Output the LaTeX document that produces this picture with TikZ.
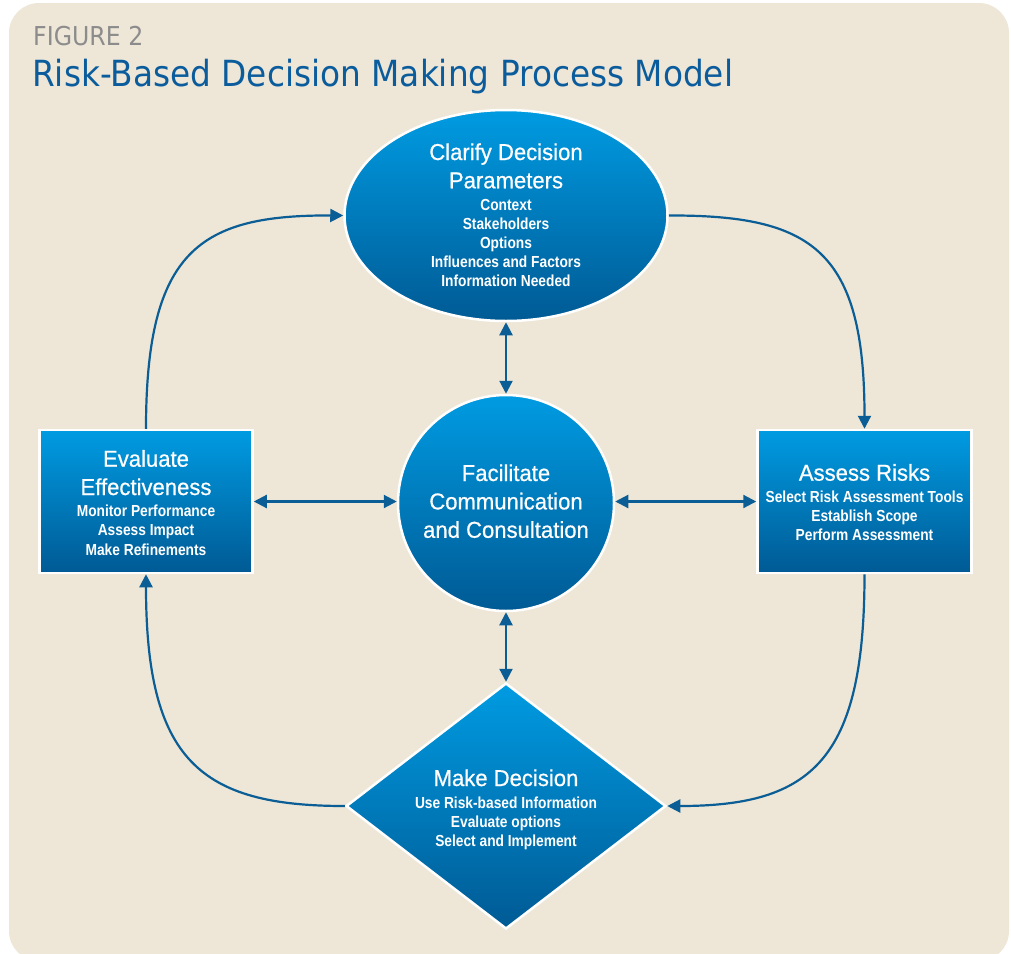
\documentclass[tikz,border=0pt]{standalone}
\usepackage{fontspec}
\usetikzlibrary{shapes.geometric,arrows.meta}
\newfontfamily\ttlfont{DejaVu Sans}[FakeStretch=0.91]
\newfontfamily\hdfont{Liberation Sans}[FakeStretch=0.96,FakeBold=0.6]
\newfontfamily\sbfont{Liberation Sans Bold}[FakeStretch=0.86]
\definecolor{bgbeige}{HTML}{EEE7D7}
\definecolor{bluetop}{HTML}{009BE2}
\definecolor{bluebot}{HTML}{005A94}
\definecolor{arrowblue}{HTML}{0B5E95}
\definecolor{titleblue}{HTML}{0B5C9C}
\definecolor{figgray}{HTML}{8C8C8C}
\begin{document}
\begin{tikzpicture}[x=1pt,y=-1pt,
  shp/.style={draw=white, line width=2.5pt, top color=bluetop, bottom color=bluebot, inner sep=0pt},
  hd/.style={text=white, font=\hdfont\fontsize{23}{23}\selectfont, anchor=base, inner sep=0pt},
  sb/.style={text=white, font=\sbfont\fontsize{16}{16}\selectfont, anchor=base, inner sep=0pt},
  conn/.style={draw=arrowblue, line width=2.2pt, -{Triangle[length=13pt,width=13pt]}},
  both/.style={draw=arrowblue, line width=2.2pt, {Triangle[length=13pt,width=13pt]}-{Triangle[length=13pt,width=13pt]}}
]
\useasboundingbox (0,0) rectangle (1011,953);
\fill[white] (0,0) rectangle (1011,953);
\begin{scope}
  \clip (0,0) rectangle (1011,953);
  \fill[bgbeige, rounded corners=30pt] (9,3) rectangle (1009,961);
\end{scope}

% title
\node[anchor=base west, inner sep=0pt, text=figgray, font=\ttlfont\fontsize{26}{26}\selectfont] (fig) at (33,45.7) {FIGURE 2};
\node[anchor=base west, inner sep=0pt, text=titleblue, font=\ttlfont\fontsize{36}{36}\selectfont] (ttl) at (32,86) {Risk-Based Decision Making Process Model};

% shapes
\node[shp, ellipse, minimum width=323pt, minimum height=211pt] (cdp) at (506,215.5) {};
\node[shp, circle, minimum size=216pt] (fcc) at (506,503) {};
\node[shp, rectangle, minimum width=213pt, minimum height=143pt] (ee) at (146,501.5) {};
\node[shp, rectangle, minimum width=214pt, minimum height=143pt] (ar) at (864.5,501.5) {};
\node[shp, diamond, minimum width=320pt, minimum height=246pt] (md) at (506,806) {};

% connectors
\draw[both] (cdp.south) -- (fcc.north);
\draw[both] (fcc.south) -- (md.north);
\draw[both] (ee.east) -- (ee.east -| fcc.west);
\draw[both] (ar.west -| fcc.east) -- (ar.west);
\draw[conn] (cdp.east) .. controls (812,215) and (864.5,250) .. (ar.north);
\draw[conn] (ee.north) .. controls (146,250) and (200,215) .. (cdp.west);
\draw[conn] (ar.south) .. controls (864.5,760) and (812,806) .. (md.east);
\draw[conn] (md.west) .. controls (200,806) and (146,760) .. (ee.south);

% texts: ellipse
\foreach \t [count=\i from 0] in {Clarify Decision, Parameters}
  \node[hd] (cdph\i) at (506,160+28.3*\i) {\t};
\foreach \t [count=\i from 0] in {Context, Stakeholders, Options, Influences and Factors, Information Needed}
  \node[sb] (cdps\i) at (506,210+19.2*\i) {\t};
% circle
\foreach \t [count=\i from 0] in {Facilitate, Communication, and Consultation}
  \node[hd] (fcch\i) at (506,481+28.4*\i) {\t};
% left box
\foreach \t [count=\i from 0] in {Evaluate, Effectiveness}
  \node[hd] (eeh\i) at (146,466.7+28.3*\i) {\t};
\foreach \t [count=\i from 0] in {Monitor Performance, Assess Impact, Make Refinements}
  \node[sb] (ees\i) at (146,516.6+19.2*\i) {\t};
% right box
\node[hd] (arh0) at (864.5,480.7) {Assess Risks};
\foreach \t [count=\i from 0] in {Select Risk Assessment Tools, Establish Scope, Perform Assessment}
  \node[sb] (ars\i) at (864.5,502.7+19*\i) {\t};
% diamond
\node[hd] (mdh0) at (506,786) {Make Decision};
\foreach \t [count=\i from 0] in {Use Risk-based Information, Evaluate options, Select and Implement}
  \node[sb] (mds\i) at (506,808.3+19.2*\i) {\t};
\end{tikzpicture}
\end{document}
